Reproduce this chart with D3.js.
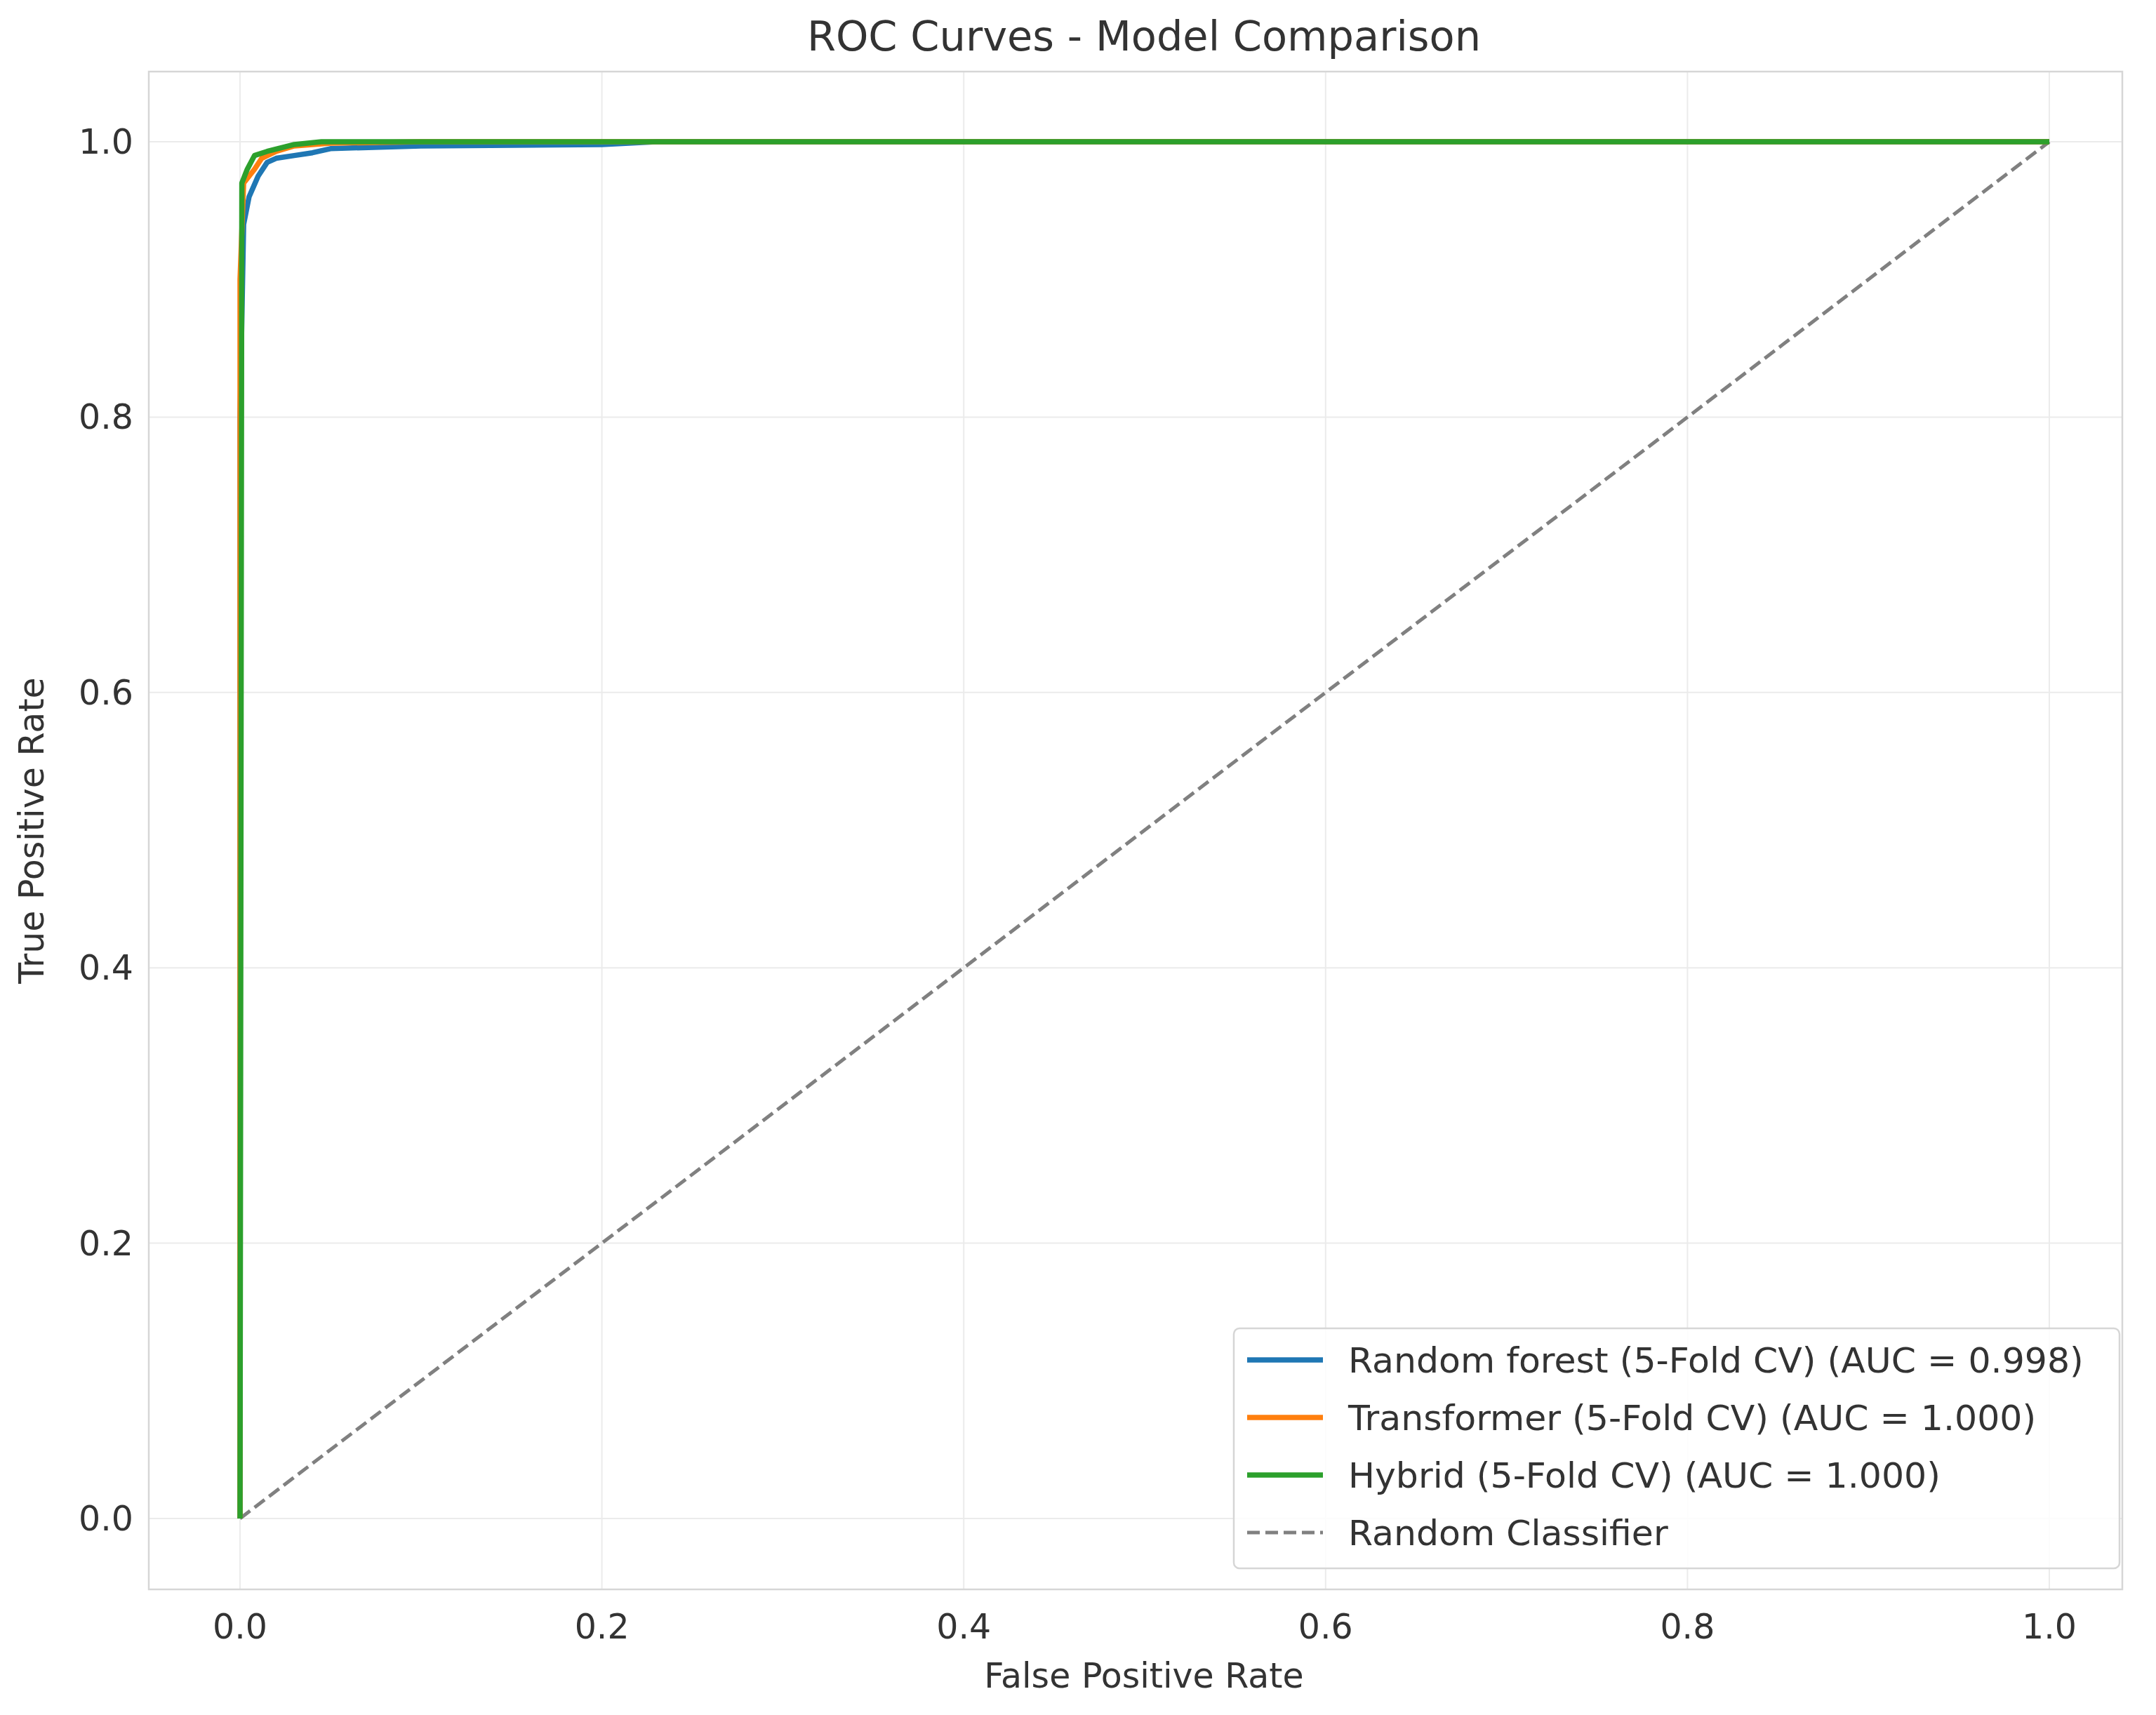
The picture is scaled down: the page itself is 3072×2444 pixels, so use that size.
<!DOCTYPE html>
<html><head><meta charset="utf-8">
<script src="https://cdn.jsdelivr.net/npm/d3@7"></script>
<style>body{margin:0;background:#fff}text{font-family:"DejaVu Sans",sans-serif;fill:#333}</style>
</head><body><svg id="c" width="3072" height="2444"></svg>
<script>
const ticks = [0, 0.2, 0.4, 0.6, 0.8, 1.0];
const seriesNames = ["Random forest (5-Fold CV) (AUC = 0.998)", "Transformer (5-Fold CV) (AUC = 1.000)", "Hybrid (5-Fold CV) (AUC = 1.000)"];
const seriesColors = ["#1f77b4", "#ff7f0e", "#2ca02c"];
const rfFpr = [0, 0, 0.002, 0.005, 0.01, 0.015, 0.02, 0.03, 0.04, 0.05, 0.1, 0.2, 0.23, 1];
const rfTpr = [0, 0.8, 0.94, 0.96, 0.975, 0.985, 0.988, 0.99, 0.992, 0.995, 0.997, 0.998, 1.0, 1];
const trFpr = [0, 0, 0.002, 0.008, 0.012, 0.02, 0.03, 0.05, 0.1, 1];
const trTpr = [0, 0.9, 0.97, 0.98, 0.988, 0.993, 0.997, 0.999, 1, 1];
const hyFpr = [0, 0.001, 0.004, 0.008, 0.015, 0.03, 0.045, 1];
const hyTpr = [0, 0.97, 0.98, 0.99, 0.993, 0.998, 1, 1];
const diagFpr = [0, 1], diagTpr = [0, 1];

const svg = d3.select("#c");
const L = 212, R = 3024, T = 102, B = 2265;
const x = d3.scaleLinear().domain([0, 1]).range([342, 2920]);
const y = d3.scaleLinear().domain([0, 1]).range([2164, 202]);

svg.append("g").selectAll("line").data(ticks).join("line")
  .attr("x1", d => x(d)).attr("x2", d => x(d)).attr("y1", T).attr("y2", B)
  .attr("stroke", "#ebebeb").attr("stroke-width", 2);
svg.append("g").selectAll("line").data(ticks).join("line")
  .attr("y1", d => y(d)).attr("y2", d => y(d)).attr("x1", L).attr("x2", R)
  .attr("stroke", "#ebebeb").attr("stroke-width", 2);
svg.append("rect").attr("x", L).attr("y", T).attr("width", R - L).attr("height", B - T)
  .attr("fill", "none").attr("stroke", "#d6d6d6").attr("stroke-width", 2.5);

svg.append("g").selectAll("text").data(ticks).join("text")
  .attr("x", d => x(d)).attr("y", B + 70).attr("text-anchor", "middle")
  .attr("font-size", 49).text(d => d.toFixed(1));
svg.append("g").selectAll("text").data(ticks).join("text")
  .attr("x", L - 22).attr("y", d => y(d) + 17).attr("text-anchor", "end")
  .attr("font-size", 49).text(d => d.toFixed(1));
svg.append("text").attr("x", 1630).attr("y", 2405).attr("text-anchor", "middle")
  .attr("font-size", 49).text("False Positive Rate");
svg.append("text").attr("transform", `translate(62,${(T + B) / 2}) rotate(-90)`).attr("text-anchor", "middle")
  .attr("font-size", 49).text("True Positive Rate");
svg.append("text").attr("x", 1630).attr("y", 72).attr("text-anchor", "middle")
  .attr("font-size", 59).text("ROC Curves - Model Comparison");

const line = d3.line().x(d => x(d[0])).y(d => y(d[1]));
const zip = (a, b) => a.map((v, i) => [v, b[i]]);
svg.append("path").attr("d", line(zip(diagFpr, diagTpr))).attr("fill", "none")
  .attr("stroke", "#808080").attr("stroke-width", 5).attr("stroke-dasharray", "18,8");
[[rfFpr, rfTpr], [trFpr, trTpr], [hyFpr, hyTpr]].forEach((s, i) => {
  svg.append("path").attr("d", line(zip(s[0], s[1]))).attr("fill", "none")
    .attr("stroke", seriesColors[i]).attr("stroke-width", 7.5).attr("stroke-linejoin", "round");
});

const lg = svg.append("g");
lg.append("rect").attr("x", 1758).attr("y", 1893).attr("width", 1262).attr("height", 342).attr("rx", 8)
  .attr("fill", "#fff").attr("fill-opacity", 0.85).attr("stroke", "#d6d6d6").attr("stroke-width", 2.5);
const entries = seriesNames.map((n, i) => ({ n, c: seriesColors[i], dash: null }))
  .concat([{ n: "Random Classifier", c: "#808080", dash: "18,8" }]);
entries.forEach((e, i) => {
  const yy = 1938 + i * 82;
  lg.append("line").attr("x1", 1777).attr("x2", 1885).attr("y1", yy).attr("y2", yy)
    .attr("stroke", e.c).attr("stroke-width", e.dash ? 5 : 7.5).attr("stroke-dasharray", e.dash);
  lg.append("text").attr("x", 1921).attr("y", yy + 18).attr("font-size", 50.5).text(e.n);
});
</script></body></html>
